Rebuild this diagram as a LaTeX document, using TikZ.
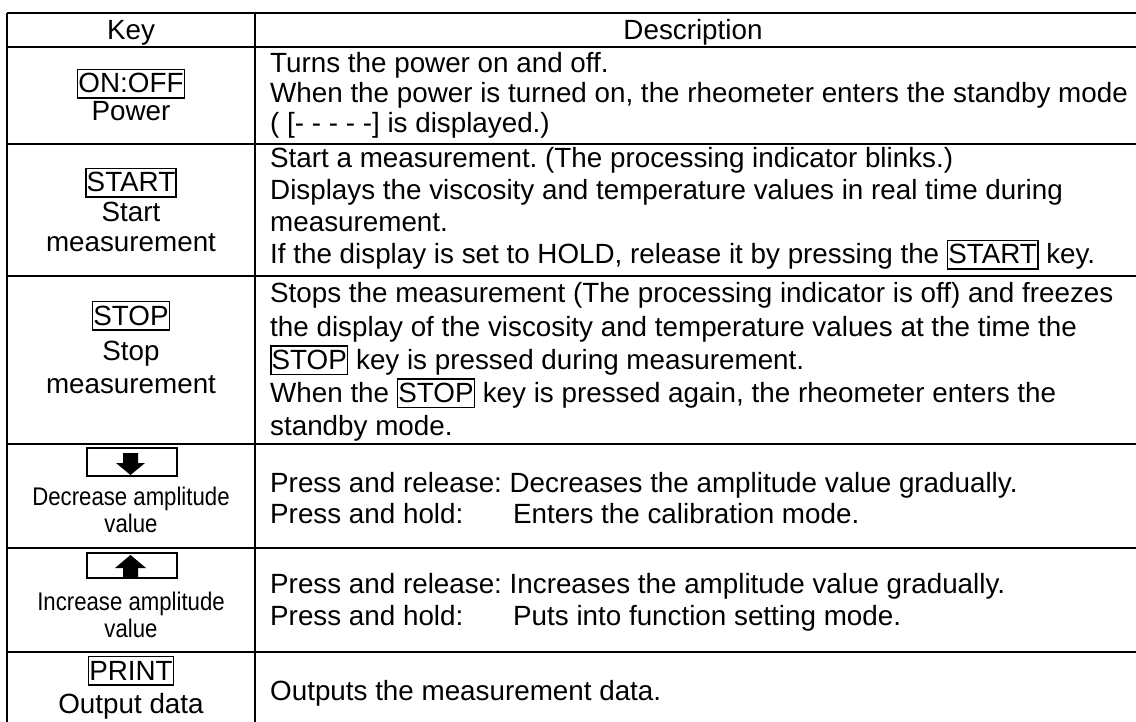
\documentclass[tikz,border=0pt]{standalone}
\usepackage{fontspec}
\setmainfont{Liberation Sans}
\frenchspacing
\newcommand\bodyfont{\fontsize{27.8}{32}\selectfont}
\newcommand\smallfont{\fontsize{25.5}{27}\selectfont}
\newcommand\narrow[1]{\scalebox{0.87}[1]{#1}}
\newcommand\keybox[1]{{\setlength\fboxsep{0pt}\setlength\fboxrule{1.5pt}\fbox{\rule[-0.15em]{0pt}{0.97em}#1}}}
\tikzset{
  gridline/.style={line width=2pt},
  cell/.style={anchor=base west, inner sep=0pt, font=\bodyfont},
  keycell/.style={anchor=base, inner sep=0pt, font=\bodyfont},
  smallkey/.style={anchor=base, inner sep=0pt, font=\smallfont},
  arrowbox/.style={draw, line width=1.5pt},
}
\begin{document}
\begin{tikzpicture}[x=1pt,y=-1pt]
      \useasboundingbox (0,0) rectangle (1136,722);
      \clip (0,0) rectangle (1136,722);
      \fill[white] (0,0) rectangle (1136,722);
      % table grid
      \foreach \y in {13,47,144,276,444,548,652}
        \draw[gridline] (7,\y) -- (1145,\y);
      \draw[gridline] (7,13) -- (7,730);
      \draw[gridline] (255,13) -- (255,730);
      % header
      \node[keycell] (key) at (131,40) {Key};
      \node[keycell] (desc) at (693,40) {Description};
      % key column
      \node[keycell] (onoff) at (131,93) {\keybox{ON:OFF}};
      \node[keycell] (power) at (131,121) {Power};
      \node[keycell] (start) at (131,192) {\keybox{START}};
      \node[keycell] (startA) at (131,222) {Start};
      \node[keycell] (startB) at (131,252) {measurement};
      \node[keycell] (stop) at (131,325) {\keybox{STOP}};
      \node[keycell] (stopA) at (131,360) {Stop};
      \node[keycell] (stopB) at (131,393) {measurement};
      \draw[arrowbox] (87,448) rectangle (177,476);
      \fill (123,453) -- (138,453) -- (138,463) -- (145,463) -- (130.5,475)
        -- (116,463) -- (123,463) -- cycle;
      \node[smallkey] (decA) at (131,505) {\narrow{Decrease amplitude}};
      \node[smallkey] (decB) at (131,532) {\narrow{value}};
      \draw[arrowbox] (87,553) rectangle (177,578);
      \fill (123,578) -- (138,578) -- (138,568) -- (146,568) -- (130.5,555)
        -- (115,568) -- (123,568) -- cycle;
      \node[smallkey] (incA) at (131,610) {\narrow{Increase amplitude}};
      \node[smallkey] (incB) at (131,637) {\narrow{value}};
      \node[keycell] (print) at (131,680) {\keybox{PRINT}};
      \node[keycell] (printA) at (131,713) {Output data};
      % description column
      \foreach \t [count=\i from 0] in {{Turns the power on and off.},
          {When the power is turned on, the rheometer enters the standby mode},
          {( [- - - - -] is displayed.)}}
        \node[cell] at (270,73+30*\i) {\t};
      \foreach \t [count=\i from 0] in {{Start a measurement. (The processing indicator blinks.)},
          {Displays the viscosity and temperature values in real time during},
          {measurement.},
          {If the display is set to HOLD, release it by pressing the \keybox{START} key.}}
        \node[cell] at (270,168+32*\i) {\t};
      \foreach \t [count=\i from 0] in {{Stops the measurement (The processing indicator is off) and freezes},
          {the display of the viscosity and temperature values at the time the},
          {\keybox{STOP} key is pressed during measurement.},
          {When the \keybox{STOP} key is pressed again, the rheometer enters the},
          {standby mode.}}
        \node[cell] at (270,303+33.2*\i) {\t};
      \node[cell] (decC) at (270,492) {Press and release: Decreases the amplitude value gradually.};
      \node[cell] (decD) at (270,523) {\makebox[243pt][l]{Press and hold:}Enters the calibration mode.};
      \node[cell] (incC) at (270,593) {Press and release: Increases the amplitude value gradually.};
      \node[cell] (incD) at (270,625) {\makebox[243pt][l]{Press and hold:}Puts into function setting mode.};
      \node[cell] (printB) at (270,700) {Outputs the measurement data.};
    \end{tikzpicture}
\end{document}
